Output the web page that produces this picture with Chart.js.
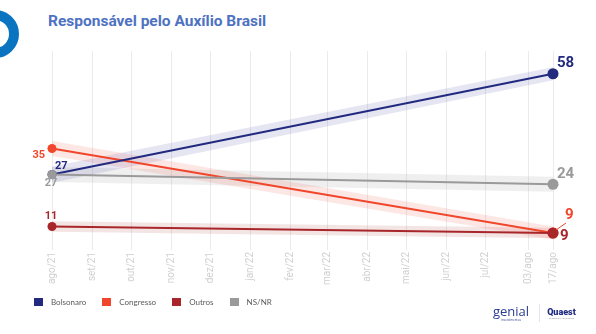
<!DOCTYPE html>
<html>
<head>
<meta charset="utf-8">
<script src="https://cdn.jsdelivr.net/npm/chart.js@4.4.1/dist/chart.umd.min.js"></script>
<style>
  html, body { margin: 0; padding: 0; background: #fff; }
  body { width: 596px; height: 334px; position: relative; overflow: hidden; font-family: Roboto, "Noto Sans", sans-serif; }
  #wrap { position: absolute; left: 0; top: 0; width: 596px; height: 334px; }
  #ring { position: absolute; left: -29px; top: 10px; width: 48px; height: 48px; box-sizing: border-box; border: 10px solid #0b74c1; border-radius: 50%; }
  #title { position: absolute; left: 48px; top: 12px; font-size: 15.5px; font-weight: 700; color: #4e72c2; white-space: nowrap; }
  #legend { position: absolute; left: 34px; top: 297px; display: flex; align-items: center; font-family: Lato, "Noto Sans", sans-serif; font-size: 8px; color: #5a5a5a; }
  .li { display: flex; align-items: center; margin-right: 16px; }
  .sw { width: 9px; height: 8px; margin-right: 8px; }
  #logo { position: absolute; left: 493px; top: 304px; display: flex; align-items: center; }
  #genial { font-family: "Open Sans", sans-serif; font-size: 13px; color: #2b3b8f; line-height: 13px; text-align: center; }
  #genial small { display: block; font-size: 3px; line-height: 4px; color: #2b3b8f; }
  #div { width: 1px; height: 18px; background: #dde6f2; margin: 0 7px 0 10px; }
  #quaest { font-family: Roboto, sans-serif; font-weight: 900; font-size: 9px; color: #1f2a80; line-height: 10px; text-align: center; }
  #quaest small { display: block; font-size: 2.5px; line-height: 3px; font-weight: 400; color: #999; }
</style>
</head>
<body>
<div id="ring"></div>
<div id="title">Responsável pelo Auxílio Brasil</div>
<div id="wrap"><canvas id="c" width="596" height="334"></canvas></div>
<div id="legend"></div>
<div id="logo">
  <div id="genial">genial<small>investimentos</small></div>
  <div id="div"></div>
  <div id="quaest">Quaest<small>pesquisa e consultoria</small></div>
</div>
<script>
// ---- data ----
const tickLabels = ["ago/21","set/21","out/21","nov/21","dez/21","jan/22","fev/22","mar/22","abr/22","mai/22","jun/22","jul/22","03/ago","17/ago"];
const tickDays   = [0, 31, 61, 92, 122, 153, 184, 212, 243, 273, 304, 334, 367, 386];
const pointDays  = [0, 386];
const seriesNames = ["Bolsonaro", "Congresso", "Outros", "NS/NR"];
const bolsonaro = [27, 58];
const congresso = [35, 9];
const outros    = [11, 9];
const nsnr      = [27, 24];
// approximate confidence margins (band half-widths) read from the shading
const marginBolsonaro = [2.5, 2];
const marginCongresso = [2.3, 2];
const marginOutros    = [1.6, 1.6];
const marginNsnr      = [2.3, 2.3];

const colors = { Bolsonaro: "#222a7f", Congresso: "#f0472c", Outros: "#a8262a", "NS/NR": "#9a9a9a" };
const bandColors = { Bolsonaro: "rgba(60,65,160,0.13)", Congresso: "rgba(240,71,44,0.13)", Outros: "rgba(168,38,42,0.12)", "NS/NR": "rgba(150,150,150,0.15)" };

const seriesValues = [bolsonaro, congresso, outros, nsnr];
const seriesMargins = [marginBolsonaro, marginCongresso, marginOutros, marginNsnr];

const toPts = (vals) => vals.map((v, i) => ({ x: pointDays[i], y: v }));

const datasets = [];
// bands
seriesNames.forEach((name, s) => {
  const vals = seriesValues[s], m = seriesMargins[s];
  datasets.push({
    label: name + "_hi", data: toPts(vals.map((v, i) => v + m[i])),
    borderWidth: 0, pointRadius: 0, fill: "+1", backgroundColor: bandColors[name], order: 20
  });
  datasets.push({
    label: name + "_lo", data: toPts(vals.map((v, i) => v - m[i])),
    borderWidth: 0, pointRadius: 0, fill: false, order: 20
  });
});
// lines
const lineOrder = { Bolsonaro: 3, Congresso: 4, Outros: 1, "NS/NR": 2 };
seriesNames.forEach((name, s) => {
  datasets.push({
    label: name, data: toPts(seriesValues[s]),
    borderColor: colors[name], backgroundColor: colors[name], borderWidth: 2,
    pointRadius: [4.5, 5.5], pointBorderWidth: 0, pointBackgroundColor: colors[name],
    fill: false, order: lineOrder[name], tension: 0, clip: false
  });
});

// label specs (text derived from the data values)
const labelSpecs = [
  { s: "Bolsonaro", i: 1, dx: 4, dy: -11, size: 15, align: "left" },
  { s: "Bolsonaro", i: 0, dx: 3, dy: -8, size: 11, align: "left" },
  { s: "Congresso", i: 0, dx: -7, dy: 7, size: 11, align: "right" },
  { s: "NS/NR", i: 0, dx: -1, dy: 9, size: 11, align: "center" },
  { s: "Outros", i: 0, dx: -1, dy: -10, size: 11, align: "center" },
  { s: "NS/NR", i: 1, dx: 4, dy: -10, size: 15, align: "left" },
  { s: "Congresso", i: 1, dx: 12, dy: -18, size: 15, align: "left", leader: true },
  { s: "Outros", i: 1, dx: 7, dy: 3, size: 15, align: "left" }
];

const labelPlugin = {
  id: "pointLabels",
  afterDatasetsDraw(chart) {
    const ctx = chart.ctx;
    const xs = chart.scales.x, ys = chart.scales.y;
    ctx.save();
    labelSpecs.forEach(sp => {
      const s = seriesNames.indexOf(sp.s);
      const v = seriesValues[s][sp.i];
      const px = xs.getPixelForValue(pointDays[sp.i]);
      const py = ys.getPixelForValue(v);
      const lx = px + sp.dx, ly = py + sp.dy;
      if (sp.leader) {
        ctx.strokeStyle = colors[sp.s];
        ctx.lineWidth = 1;
        ctx.beginPath();
        ctx.moveTo(px + 3, py - 3);
        ctx.lineTo(lx + 1, ly + 8);
        ctx.stroke();
      }
      ctx.fillStyle = colors[sp.s];
      ctx.font = "700 " + sp.size + "px Roboto, sans-serif";
      ctx.textAlign = sp.align;
      ctx.textBaseline = "middle";
      ctx.fillText(String(v), lx, ly);
    });
    ctx.restore();
  }
};

new Chart(document.getElementById("c"), {
  type: "line",
  data: { datasets },
  plugins: [labelPlugin],
  options: {
    responsive: false,
    animation: false,
    layout: { padding: { left: 52, right: 43, top: 51, bottom: 48 } },
    plugins: { legend: { display: false }, tooltip: { enabled: false } },
    scales: {
      x: {
        type: "linear", min: 0, max: 386, offset: false,
        afterBuildTicks: (scale) => { scale.ticks = tickDays.map(v => ({ value: v })); },
        afterFit: (scale) => { scale.height = 40; },
        grid: { color: "#ebebeb", lineWidth: 1, drawTicks: true, tickLength: 4 },
        border: { display: false },
        ticks: {
          autoSkip: false, minRotation: 90, maxRotation: 90, padding: 2,
          color: "#d0d0d0", font: { family: "Roboto, sans-serif", size: 10 },
          callback: (v) => { const k = tickDays.indexOf(v); return k >= 0 ? tickLabels[k] : ""; }
        }
      },
      y: { type: "linear", min: 5, max: 65, display: false }
    }
  }
});

// legend (HTML)
const lg = document.getElementById("legend");
seriesNames.forEach(n => {
  const d = document.createElement("div"); d.className = "li";
  const sw = document.createElement("div"); sw.className = "sw"; sw.style.background = colors[n];
  const t = document.createElement("span"); t.textContent = n;
  d.appendChild(sw); d.appendChild(t); lg.appendChild(d);
});
</script>
</body>
</html>
